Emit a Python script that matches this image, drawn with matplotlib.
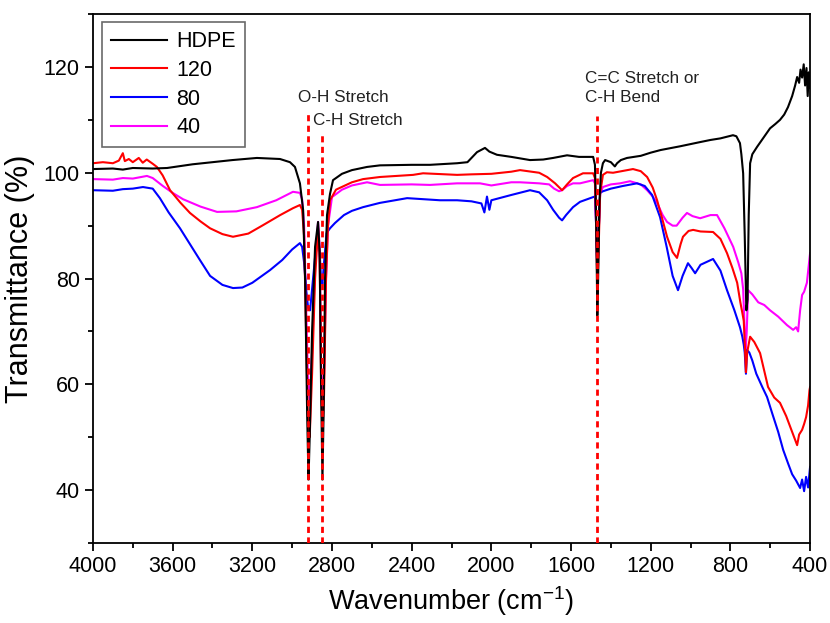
import matplotlib
matplotlib.use("Agg")
import matplotlib.pyplot as plt
from matplotlib.ticker import MultipleLocator

plt.rcParams["font.family"] = ["Liberation Sans", "DejaVu Sans"]
plt.rcParams["mathtext.fontset"] = "custom"
plt.rcParams["mathtext.rm"] = "Liberation Sans"

# ---------- Data ----------
hdpe_wn = [4000, 3900, 3850, 3800, 3700, 3628, 3500, 3400, 3300, 3177, 3061, 3011, 2986, 2961,
           2945, 2935, 2925, 2918, 2912, 2900, 2885, 2870, 2862, 2855, 2848, 2842, 2835, 2825,
           2810, 2795, 2750, 2700, 2624, 2559, 2400, 2308, 2172, 2120, 2072, 2032, 2010, 1972,
           1900, 1806, 1740, 1690, 1620, 1560, 1489, 1480, 1474, 1468, 1464, 1458, 1450, 1440,
           1429, 1400, 1380, 1369, 1350, 1319, 1250, 1200, 1150, 1053, 952, 900, 850, 787, 770,
           752, 745, 736, 728, 720, 714, 708, 701, 690, 666, 640, 601, 575, 551, 530, 511, 490,
           475, 465, 455, 448, 440, 432, 425, 418, 412, 406, 400]
hdpe_t = [100.7, 100.8, 100.6, 100.9, 100.8, 100.9, 101.6, 102.0, 102.4, 102.8, 102.6, 102.0,
          101.1, 98.0, 93.0, 80.0, 55.0, 42.0, 50.0, 70.0, 86.0, 90.7, 85.0, 60.0, 42.0, 55.0,
          80.0, 92.0, 96.0, 98.6, 99.8, 100.5, 101.1, 101.4, 101.5, 101.5, 101.8, 102.0, 103.9,
          104.7, 104.0, 103.4, 103.0, 102.4, 102.5, 102.8, 103.3, 103.0, 103.0, 101.5, 92.0,
          73.0, 80.0, 94.0, 100.0, 101.8, 102.4, 102.0, 101.2, 101.8, 102.4, 102.8, 103.2,
          103.8, 104.3, 105.0, 105.8, 106.2, 106.5, 107.1, 106.9, 105.6, 103.5, 99.9, 88.0,
          74.0, 76.0, 92.0, 101.8, 103.5, 104.9, 106.3, 108.4, 109.2, 110.0, 111.0, 112.4,
          114.5, 116.5, 118.1, 117.0, 119.5, 118.0, 120.5, 116.5, 119.8, 114.5, 119.0, 116.0]

s120_wn = [4000, 3950, 3900, 3870, 3850, 3840, 3820, 3800, 3770, 3750, 3730, 3700, 3679, 3650,
           3613, 3560, 3513, 3460, 3412, 3350, 3297, 3220, 3146, 3060, 2996, 2961, 2950, 2940,
           2930, 2920, 2912, 2900, 2885, 2870, 2862, 2855, 2848, 2840, 2830, 2820, 2810, 2780,
           2700, 2644, 2559, 2393, 2343, 2172, 2100, 2000, 1900, 1856, 1760, 1720, 1680, 1645,
           1620, 1590, 1540, 1489, 1480, 1474, 1468, 1462, 1454, 1440, 1420, 1389, 1289, 1250,
           1218, 1190, 1168, 1140, 1118, 1090, 1068, 1050, 1038, 1010, 987, 950, 887, 850, 817,
           790, 766, 750, 740, 733, 728, 722, 716, 701, 680, 651, 611, 580, 551, 520, 500, 480,
           465, 455, 440, 430, 420, 410, 403, 400]
s120_t = [101.8, 102.0, 101.8, 102.3, 103.7, 102.2, 102.6, 102.0, 102.8, 101.9, 102.5, 101.7,
          101.1, 99.5, 96.7, 94.3, 92.4, 90.8, 89.5, 88.4, 87.9, 88.5, 90.1, 92.0, 93.3, 93.9,
          93.0, 88.0, 70.0, 52.0, 50.0, 62.0, 80.0, 89.5, 84.0, 62.0, 50.0, 58.0, 80.0, 90.0,
          94.8, 96.8, 98.2, 98.8, 99.2, 99.6, 99.9, 99.6, 99.7, 99.8, 100.2, 100.5, 100.0,
          99.2, 98.0, 96.7, 97.8, 99.0, 99.9, 99.9, 99.0, 90.0, 78.0, 85.0, 96.0, 99.6, 100.1,
          100.0, 100.7, 100.3, 99.2, 97.2, 94.8, 91.0, 87.9, 85.0, 83.9, 86.5, 87.9, 89.0,
          89.2, 88.9, 88.8, 87.5, 84.8, 82.0, 79.2, 75.5, 73.5, 72.0, 68.0, 62.3, 66.0, 69.0,
          68.0, 65.9, 59.5, 57.5, 56.5, 54.0, 52.0, 50.0, 48.5, 50.5, 51.4, 52.5, 53.8, 56.0,
          58.9, 59.5]

s80_wn = [4000, 3900, 3850, 3800, 3749, 3700, 3664, 3620, 3563, 3513, 3463, 3412, 3350, 3297,
          3250, 3200, 3111, 3050, 3000, 2961, 2950, 2940, 2930, 2920, 2910, 2900, 2885, 2870,
          2862, 2855, 2848, 2840, 2827, 2810, 2785, 2740, 2700, 2644, 2560, 2423, 2258, 2172,
          2100, 2050, 2035, 2022, 2010, 2000, 1950, 1900, 1806, 1760, 1720, 1690, 1660, 1645,
          1625, 1590, 1555, 1489, 1480, 1474, 1468, 1462, 1454, 1440, 1400, 1340, 1269, 1230,
          1193, 1153, 1120, 1090, 1063, 1040, 1013, 995, 977, 950, 887, 850, 817, 780, 752, 740,
          733, 728, 722, 716, 705, 690, 670, 640, 616, 590, 560, 535, 510, 490, 470, 450, 440,
          430, 420, 410, 400]
s80_t = [96.7, 96.6, 96.9, 97.0, 97.3, 97.0, 95.2, 92.5, 89.5, 86.5, 83.5, 80.5, 78.8, 78.2,
         78.3, 79.2, 81.6, 83.5, 85.5, 86.7, 86.0, 83.0, 78.0, 74.5, 74.0, 78.0, 84.0, 87.3,
         85.0, 80.0, 79.0, 83.0, 88.6, 89.5, 90.5, 92.0, 92.8, 93.5, 94.3, 95.2, 94.8, 94.8,
         94.6, 94.2, 92.5, 95.5, 93.0, 94.8, 95.3, 95.8, 96.7, 96.3, 94.8, 93.0, 91.5, 91.0,
         92.0, 93.5, 94.5, 95.4, 95.5, 90.0, 82.0, 88.0, 96.2, 96.5, 97.0, 97.5, 98.0, 97.5,
         95.8, 91.6, 86.0, 80.5, 77.8, 80.5, 82.9, 82.0, 81.0, 82.6, 83.7, 81.5, 77.8, 74.0,
         70.8, 69.0, 67.5, 66.0, 62.0, 66.5, 66.0, 64.5, 62.0, 59.5, 57.6, 54.5, 51.0, 47.6,
         45.0, 43.0, 41.8, 40.4, 42.0, 39.8, 42.5, 40.5, 44.4]

s40_wn = [4000, 3900, 3850, 3800, 3729, 3700, 3649, 3600, 3548, 3460, 3377, 3280, 3177, 3080,
          2996, 2961, 2950, 2940, 2930, 2920, 2912, 2900, 2885, 2870, 2862, 2855, 2848, 2840,
          2830, 2820, 2800, 2750, 2700, 2624, 2559, 2400, 2308, 2172, 2057, 2000, 1900, 1856,
          1760, 1710, 1685, 1660, 1645, 1620, 1590, 1555, 1489, 1480, 1474, 1468, 1462, 1454,
          1440, 1400, 1354, 1304, 1250, 1218, 1190, 1168, 1140, 1118, 1090, 1070, 1040, 1018,
          990, 952, 900, 867, 830, 786, 760, 745, 736, 730, 724, 718, 711, 690, 660, 630, 601,
          560, 516, 485, 470, 460, 450, 440, 430, 416, 408, 400]
s40_t = [98.8, 98.7, 99.0, 98.9, 99.4, 99.0, 97.5, 96.2, 95.0, 93.6, 92.6, 92.7, 93.5, 94.8,
         96.4, 96.2, 95.0, 90.0, 75.0, 60.0, 57.0, 66.0, 83.0, 90.7, 86.0, 64.0, 57.0, 62.0,
         80.0, 90.0, 95.4, 96.8, 97.6, 98.2, 97.7, 97.8, 97.7, 98.0, 98.0, 97.6, 98.2, 98.2,
         98.0, 97.8, 97.0, 96.5, 96.7, 97.5, 98.0, 98.0, 98.6, 98.0, 90.0, 80.0, 88.0, 96.0,
         97.3, 97.8, 98.0, 98.4, 97.8, 96.7, 95.5, 94.3, 92.0, 90.7, 90.0, 90.0, 91.5, 92.4,
         91.8, 91.4, 92.0, 92.0, 89.5, 86.0, 83.0, 81.0, 78.0, 72.0, 66.0, 70.0, 77.8, 77.0,
         75.5, 75.0, 74.0, 72.8, 71.2, 70.3, 70.8, 70.0, 74.0, 76.9, 77.5, 79.2, 82.0, 84.8]

series = [
    ("HDPE", hdpe_wn, hdpe_t, "black"),
    ("120", s120_wn, s120_t, "#ff0000"),
    ("80", s80_wn, s80_t, "#0000ff"),
    ("40", s40_wn, s40_t, "#ff00ff"),
]

# band markers
band_wn = [2920, 2850, 1470]
band_top = [111.5, 107.2, 110.8]
band_labels = ["O-H Stretch", "C-H Stretch", "C=C Stretch or\nC-H Bend"]
label_x = [2972, 2895, 1532]
label_y = [114.3, 109.8, 116.0]

# ---------- Plot ----------
fig = plt.figure(figsize=(8.3, 6.23), dpi=100)
ax = fig.add_axes([0.112, 0.1284, 0.864, 0.849])

# draw order: later series sit on top
for name, wn, t, color in reversed(series):
    ax.plot(wn, t, color=color, linewidth=1.5, label=name)

for wn, top in zip(band_wn, band_top):
    ax.plot([wn, wn], [30, top], color="#ff0000", linestyle=(0, (2.2, 1.6)),
            linewidth=2.0, zorder=5)

for lab, x, y in zip(band_labels, label_x, label_y):
    ax.text(x, y, lab, fontsize=12.3, color="#222222", ha="left", va="center",
            linespacing=1.3)

ax.set_xlim(4000, 400)
ax.set_ylim(30, 130)
ax.xaxis.set_major_locator(MultipleLocator(400))
ax.xaxis.set_minor_locator(MultipleLocator(200))
ax.yaxis.set_major_locator(MultipleLocator(20))
ax.yaxis.set_minor_locator(MultipleLocator(10))
ax.set_yticks([40, 60, 80, 100, 120])

ax.tick_params(axis="both", which="major", direction="out", length=6, width=1.3,
               labelsize=15.5, colors="black")
ax.tick_params(axis="both", which="minor", direction="out", length=3.5, width=1.3)
for sp in ax.spines.values():
    sp.set_linewidth(1.3)

ax.set_xlabel("Wavenumber (cm$^{-1}$)", fontsize=19.5, labelpad=5)
ax.set_ylabel("Transmittance (%)", fontsize=22, labelpad=6)

handles, labels = ax.get_legend_handles_labels()
order = [labels.index(s[0]) for s in series]
leg = ax.legend([handles[i] for i in order], [labels[i] for i in order],
                loc="upper left", bbox_to_anchor=(0.012, 0.985), borderaxespad=0,
                fontsize=15.5, handlelength=2.6, handletextpad=0.45, labelspacing=0.36,
                fancybox=False, frameon=True, borderpad=0.42)
leg.get_frame().set_edgecolor("#444444")
leg.get_frame().set_linewidth(1.2)
for line in leg.get_lines():
    line.set_linewidth(1.5)

fig.savefig("out.png", dpi=100)
